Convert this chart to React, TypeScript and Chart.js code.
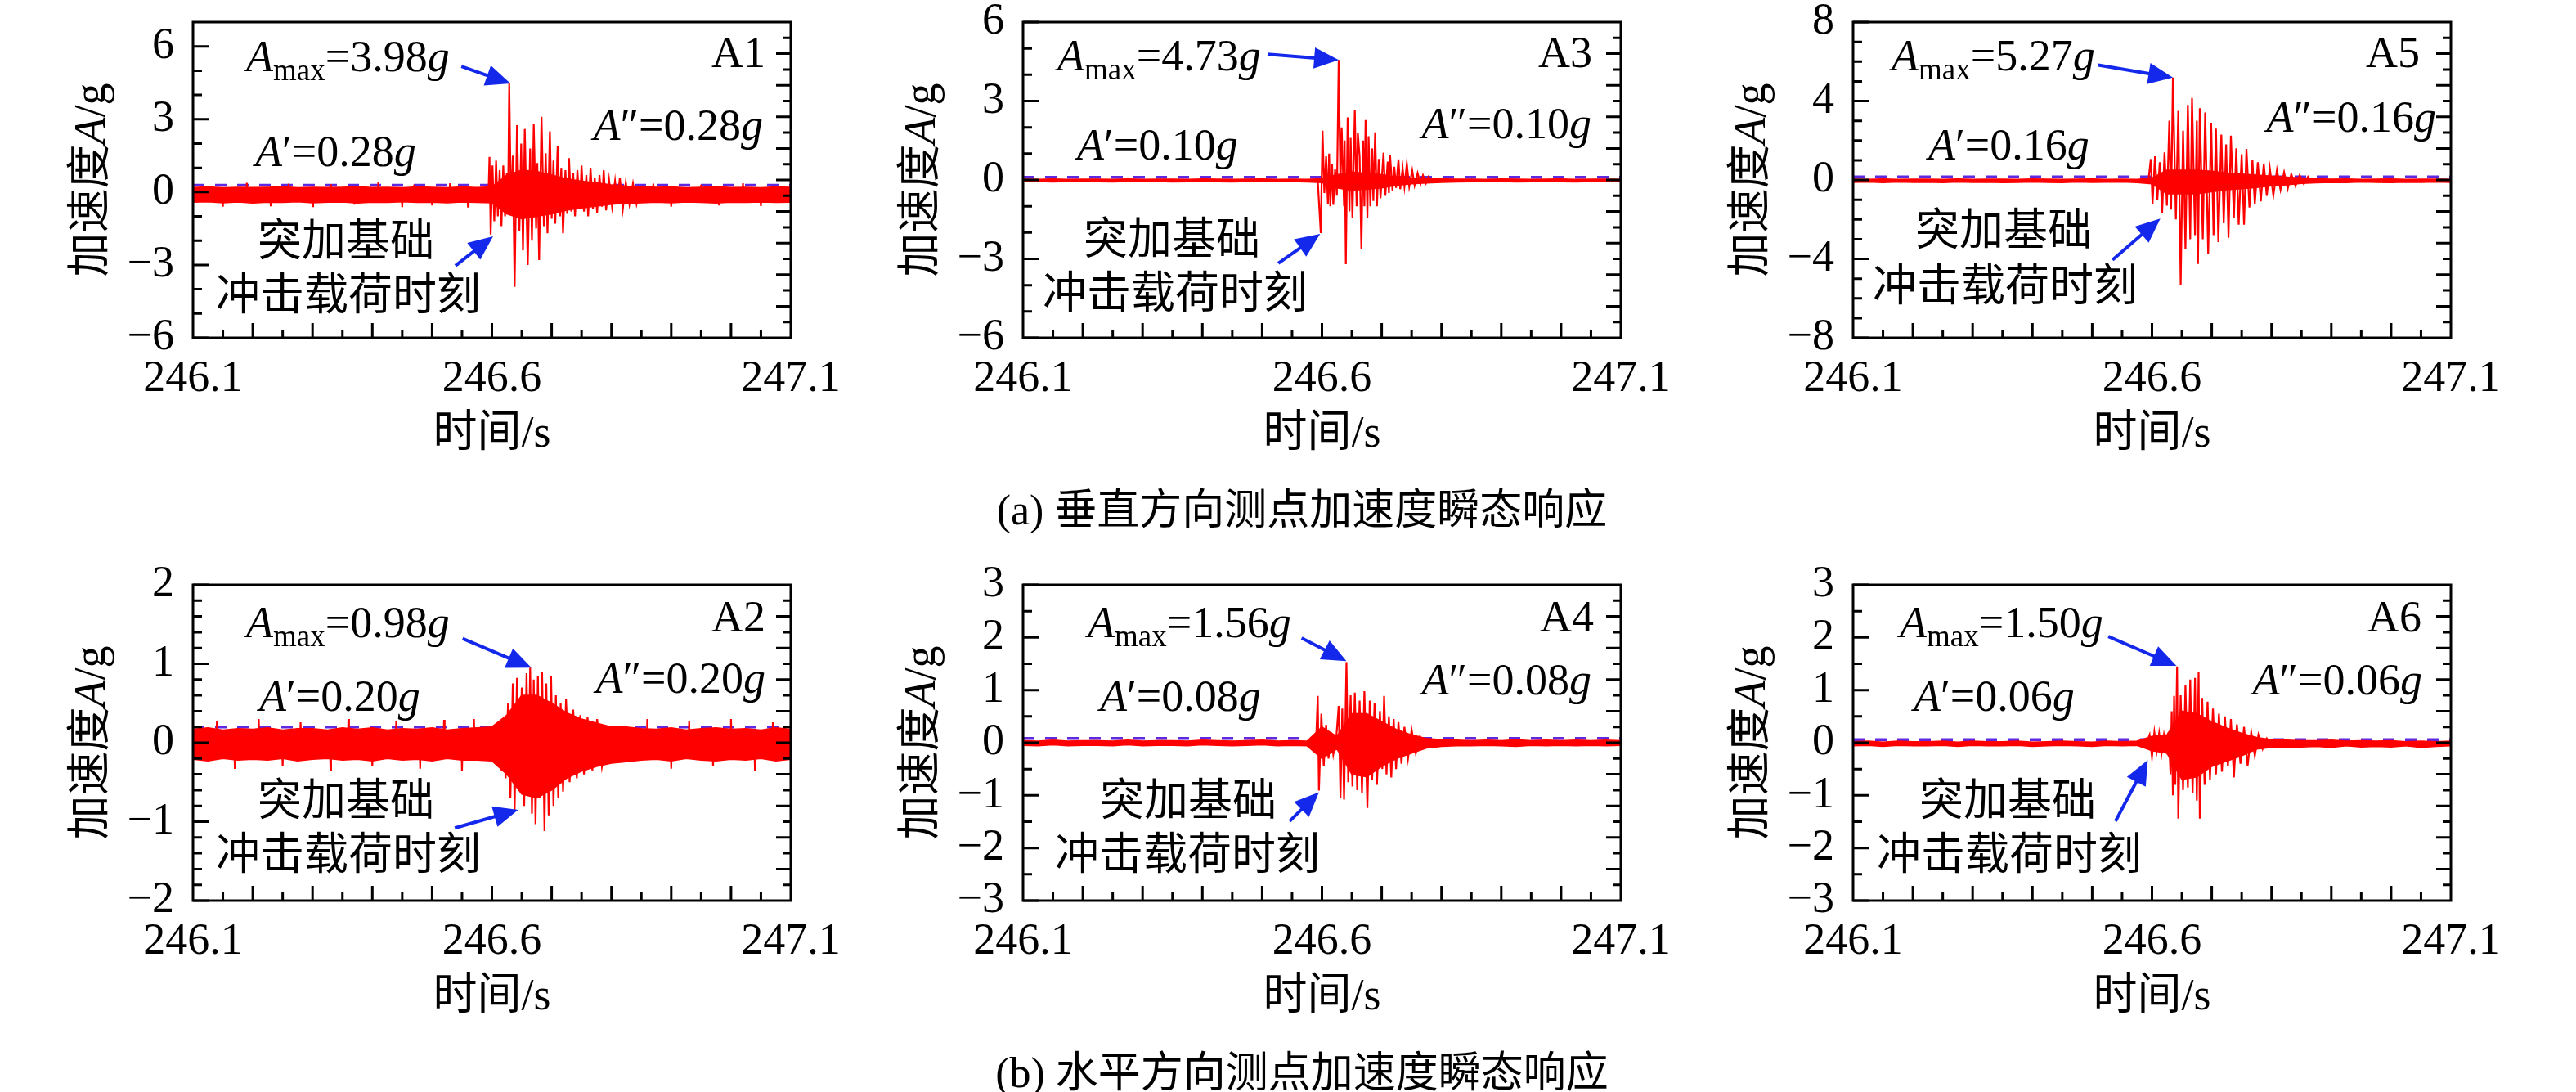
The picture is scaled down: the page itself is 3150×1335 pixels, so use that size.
import { useEffect, useRef } from 'react';
import { Chart, registerables } from 'chart.js';

Chart.register(...registerables);

const SERIF = "'Liberation Serif', 'Times New Roman', serif";
const MIXED = "'Liberation Serif', 'Noto Sans CJK SC', serif";
const RED = 'rgb(255,0,0)';
const DASH = 'rgb(95,40,225)';
const ARROW = 'rgb(20,40,235)';

// time axis
const xTicks = [246.1, 246.6, 247.1];

// grid for the background-noise envelope (s)
const bandT = [
    246.1, 246.125, 246.15, 246.175, 246.2, 246.225, 246.25, 246.275, 246.3, 246.325,
    246.35, 246.375, 246.4, 246.425, 246.45, 246.475, 246.5, 246.525, 246.55, 246.575,
    246.6, 246.625, 246.65, 246.675, 246.7, 246.725, 246.75, 246.775, 246.8, 246.825,
    246.85, 246.875, 246.9, 246.925, 246.95, 246.975, 247.0, 247.025, 247.05, 247.075, 247.1,
];

// A1
const a1Hi = [0.19, 0.21, 0.18, 0.2, 0.19, 0.2, 0.22, 0.18, 0.2, 0.19, 0.2, 0.22, 0.19, 0.2, 0.18, 0.21, 0.2, 0.18, 0.21, 0.19,
    0.21, 0.7, 0.9, 0.85, 0.7, 0.55, 0.45, 0.38, 0.3, 0.25, 0.22,
    0.2, 0.21, 0.18, 0.2, 0.22, 0.19, 0.2, 0.18, 0.21, 0.2];
const a1Lo = [-0.42, -0.4, -0.44, -0.41, -0.45, -0.42, -0.43, -0.4, -0.44, -0.42, -0.41, -0.45, -0.42, -0.43, -0.4, -0.43, -0.42, -0.44, -0.41, -0.43,
    -0.44, -0.9, -1.1, -1.0, -0.9, -0.75, -0.65, -0.58, -0.5, -0.46, -0.44,
    -0.42, -0.44, -0.41, -0.43, -0.45, -0.42, -0.43, -0.41, -0.43, -0.42];
const a1Spk = [[246.1, -0.1],
    [246.149, -0.1], [246.15, -0.6], [246.151, -0.1], [246.189, -0.1], [246.19, 0.38], [246.191, -0.1],
    [246.229, -0.1], [246.23, -0.55], [246.231, -0.1], [246.259, -0.1], [246.26, 0.35], [246.261, -0.1],
    [246.299, -0.1], [246.3, -0.58], [246.301, -0.1], [246.329, -0.1], [246.33, 0.32], [246.331, -0.1],
    [246.369, -0.1], [246.37, -0.52], [246.371, -0.1], [246.409, -0.1], [246.41, 0.4], [246.411, -0.1],
    [246.449, -0.1], [246.45, -0.62], [246.451, -0.1], [246.469, -0.1], [246.47, 0.3], [246.471, -0.1],
    [246.499, -0.1], [246.5, -0.55], [246.501, -0.1], [246.529, -0.1], [246.53, 0.36], [246.531, -0.1],
    [246.559, -0.1], [246.56, -0.6], [246.561, -0.1],
    [246.59, -0.1], [246.594, -0.3], [246.596, 1.45], [246.598, -1.75], [246.601, 1.1], [246.604, -1.2], [246.607, 1.3], [246.61, -1.0],
    [246.613, 0.9], [246.616, -1.4], [246.619, 1.1], [246.622, -1.0], [246.625, 0.8], [246.627, -0.6], [246.629, 4.47], [246.632, -0.8],
    [246.635, 1.5], [246.638, -3.9], [246.642, 2.76], [246.646, -1.6], [246.649, 2.0], [246.652, -2.4], [246.655, 2.6], [246.66, -3.0],
    [246.664, 1.8], [246.667, -2.0], [246.67, 2.8], [246.674, -1.5], [246.676, 1.2], [246.679, -2.8], [246.683, 3.1], [246.687, -1.4],
    [246.69, 1.6], [246.693, -1.7], [246.697, 2.5], [246.7, -1.1], [246.703, 1.3], [246.706, -1.3], [246.71, 1.9], [246.714, -1.0],
    [246.716, 1.0], [246.719, -1.7], [246.723, 0.9], [246.726, -0.9], [246.729, 1.4], [246.733, -0.8], [246.736, 0.8], [246.739, -1.0],
    [246.743, 0.9], [246.747, -0.7], [246.75, 1.1], [246.754, -0.8], [246.758, 0.7], [246.761, -1.0], [246.765, 1.0], [246.769, -0.7],
    [246.772, 0.6], [246.776, -0.85], [246.78, 0.7], [246.784, -0.6], [246.787, 0.9], [246.791, -0.75], [246.796, 0.5], [246.801, -0.6],
    [246.806, 0.45], [246.81, -0.5], [246.814, 0.6], [246.819, -0.7], [246.824, 0.4], [246.83, -0.5], [246.836, 0.35], [246.842, -0.5],
    [246.846, -0.1], [246.869, -0.1], [246.87, 0.35], [246.871, -0.1], [246.899, -0.1], [246.9, -0.6], [246.901, -0.1],
    [246.949, -0.1], [246.95, 0.3], [246.951, -0.1], [246.979, -0.1], [246.98, -0.55], [246.981, -0.1],
    [247.019, -0.1], [247.02, 0.36], [247.021, -0.1], [247.049, -0.1], [247.05, -0.58], [247.051, -0.1], [247.1, -0.1]];

// A3
const a3Hi = [0.03, 0.02, 0.04, 0.02, 0.03, 0.03, 0.02, 0.04, 0.02, 0.03, 0.03, 0.02, 0.04, 0.03, 0.02, 0.03, 0.04, 0.02, 0.03, 0.02,
    0.05, 0.2, 0.3, 0.25, 0.2, 0.12, 0.08, 0.05, 0.04, 0.03, 0.03,
    0.02, 0.04, 0.03, 0.02, 0.03, 0.04, 0.02, 0.03, 0.03, 0.02];
const a3Lo = [-0.07, -0.06, -0.08, -0.06, -0.07, -0.07, -0.08, -0.06, -0.07, -0.06, -0.08, -0.07, -0.06, -0.07, -0.08, -0.06, -0.07, -0.07, -0.06, -0.08,
    -0.1, -0.3, -0.4, -0.35, -0.3, -0.2, -0.15, -0.12, -0.09, -0.08, -0.07,
    -0.07, -0.06, -0.08, -0.07, -0.06, -0.07, -0.08, -0.06, -0.07, -0.07];
const a3Spk = [[246.593, -0.03], [246.598, -2.02], [246.601, 1.87], [246.604, -0.5], [246.607, 0.9], [246.61, -0.9], [246.612, 1.0], [246.614, -1.0],
    [246.617, 0.6], [246.619, -0.95], [246.622, 0.4], [246.625, -0.6], [246.628, 4.56], [246.631, -0.3], [246.633, 2.0], [246.637, -1.0],
    [246.638, 1.5], [246.64, -3.2], [246.643, 2.38], [246.646, -1.2], [246.648, 1.6], [246.651, -1.45], [246.655, 2.64], [246.658, -1.0],
    [246.66, 1.8], [246.663, 0.9], [246.666, -2.64], [246.669, 1.5], [246.671, -1.0], [246.673, 2.28], [246.676, -1.45], [246.678, 1.66],
    [246.681, -1.0], [246.684, 1.2], [246.686, -0.8], [246.689, 1.81], [246.692, -1.0], [246.695, 0.8], [246.698, -0.7], [246.703, 1.04],
    [246.706, -0.6], [246.71, 0.7], [246.712, -0.5], [246.714, 0.93], [246.718, -0.4], [246.721, 0.5], [246.724, -0.3], [246.728, 0.78],
    [246.731, -0.35], [246.735, 0.45], [246.738, -0.25], [246.742, 0.62], [246.746, -0.25], [246.751, 0.36], [246.755, -0.2], [246.76, 0.26],
    [246.765, -0.15], [246.769, 0.18], [246.774, -0.12], [246.778, 0.12], [246.786, -0.08], [246.796, 0.05]];

// A5
const a5Hi = [0.04, 0.03, 0.05, 0.03, 0.04, 0.04, 0.03, 0.05, 0.03, 0.04, 0.04, 0.03, 0.05, 0.04, 0.03, 0.04, 0.05, 0.03, 0.04, 0.03,
    0.1, 0.5, 0.5, 0.5, 0.45, 0.35, 0.3, 0.25, 0.2, 0.15, 0.1,
    0.06, 0.04, 0.05, 0.03, 0.04, 0.05, 0.03, 0.04, 0.04, 0.03];
const a5Lo = [-0.12, -0.1, -0.13, -0.1, -0.12, -0.11, -0.13, -0.1, -0.12, -0.11, -0.13, -0.12, -0.1, -0.12, -0.13, -0.1, -0.12, -0.11, -0.1, -0.13,
    -0.2, -0.7, -0.7, -0.7, -0.6, -0.5, -0.45, -0.38, -0.3, -0.25, -0.18,
    -0.15, -0.12, -0.13, -0.1, -0.12, -0.13, -0.11, -0.12, -0.1, -0.12];
const a5Spk = [[246.594, -0.05], [246.598, 1.06], [246.601, -1.2], [246.605, 1.2], [246.609, -1.0], [246.613, 0.9], [246.617, -1.68], [246.621, 1.4],
    [246.625, -1.3], [246.629, 3.0], [246.632, -1.5], [246.635, 5.19], [246.64, -2.0], [246.644, 3.5], [246.648, -5.3], [246.652, 2.5],
    [246.656, -3.5], [246.66, 3.8], [246.664, -3.0], [246.667, 4.15], [246.672, -2.8], [246.675, 3.0], [246.677, -4.26], [246.68, 3.64],
    [246.685, -3.0], [246.689, 3.42], [246.694, -3.74], [246.699, 2.9], [246.703, -2.8], [246.707, 2.6], [246.711, -3.15], [246.716, 2.3],
    [246.72, -2.2], [246.724, 1.8], [246.728, -2.93], [246.732, 2.25], [246.737, -1.9], [246.741, 1.6], [246.745, -2.27], [246.75, 1.3],
    [246.754, -2.27], [246.758, 1.57], [246.763, -1.4], [246.768, 1.0], [246.772, -1.23], [246.777, 0.9], [246.782, -1.08], [246.787, 0.83],
    [246.792, -0.8], [246.797, 0.61], [246.803, -0.79], [246.809, 0.5], [246.815, -0.5], [246.821, 0.39], [246.827, -0.45], [246.833, 0.3],
    [246.84, -0.3], [246.847, 0.24], [246.854, -0.2], [246.861, 0.17], [246.868, -0.12]];

// A2
const a2Hi = [0.17, 0.19, 0.16, 0.18, 0.17, 0.19, 0.16, 0.18, 0.18, 0.16, 0.19, 0.17, 0.19, 0.16, 0.18, 0.17, 0.19, 0.16, 0.18, 0.19,
    0.2, 0.35, 0.6, 0.6, 0.5, 0.38, 0.3, 0.25, 0.2, 0.2, 0.18,
    0.17, 0.19, 0.16, 0.18, 0.19, 0.17, 0.18, 0.16, 0.19, 0.17];
const a2Lo = [-0.21, -0.23, -0.2, -0.22, -0.21, -0.22, -0.2, -0.23, -0.21, -0.2, -0.22, -0.21, -0.23, -0.2, -0.22, -0.21, -0.23, -0.2, -0.22, -0.22,
    -0.23, -0.4, -0.65, -0.7, -0.6, -0.45, -0.36, -0.3, -0.26, -0.24, -0.22,
    -0.21, -0.23, -0.2, -0.22, -0.23, -0.21, -0.22, -0.2, -0.23, -0.21];
const a2Spk = [[246.1, 0.0],
    [246.139, 0.0], [246.14, 0.28], [246.141, 0.0], [246.169, 0.0], [246.17, -0.32], [246.171, 0.0],
    [246.209, 0.0], [246.21, 0.3], [246.211, 0.0], [246.249, 0.0], [246.25, -0.3], [246.251, 0.0],
    [246.279, 0.0], [246.28, 0.26], [246.281, 0.0], [246.329, 0.0], [246.33, -0.35], [246.331, 0.0],
    [246.359, 0.0], [246.36, 0.3], [246.361, 0.0], [246.399, 0.0], [246.4, -0.3], [246.401, 0.0],
    [246.439, 0.0], [246.44, 0.27], [246.441, 0.0], [246.479, 0.0], [246.48, -0.33], [246.481, 0.0],
    [246.519, 0.0], [246.52, 0.29], [246.521, 0.0], [246.549, 0.0], [246.55, -0.36], [246.551, 0.0],
    [246.569, 0.0], [246.57, 0.3], [246.571, 0.0],
    [246.612, 0.2], [246.616, -0.35], [246.62, 0.3], [246.623, -0.45], [246.627, 0.5], [246.631, -0.7], [246.635, 0.75], [246.638, -0.85],
    [246.642, 0.82], [246.646, -0.6], [246.65, 0.7], [246.654, -0.8], [246.658, 0.88], [246.661, -0.5], [246.664, 0.95], [246.667, -0.9],
    [246.67, 0.8], [246.673, -1.03], [246.677, 0.85], [246.68, -0.7], [246.684, 0.9], [246.688, -1.12], [246.691, 0.75], [246.695, -0.92],
    [246.699, 0.85], [246.703, -0.8], [246.707, 0.6], [246.711, -0.7], [246.715, 0.5], [246.719, -0.62], [246.724, 0.55], [246.73, -0.5],
    [246.736, 0.42], [246.742, -0.45], [246.748, 0.35], [246.754, -0.4], [246.76, 0.32], [246.768, -0.35], [246.776, 0.3], [246.784, -0.3],
    [246.79, 0.0], [246.859, 0.0], [246.86, 0.3], [246.861, 0.0], [246.899, 0.0], [246.9, -0.33], [246.901, 0.0],
    [246.929, 0.0], [246.93, 0.28], [246.931, 0.0], [246.969, 0.0], [246.97, -0.3], [246.971, 0.0],
    [246.999, 0.0], [247.0, 0.3], [247.001, 0.0], [247.039, 0.0], [247.04, -0.34], [247.041, 0.0],
    [247.069, 0.0], [247.07, 0.26], [247.071, 0.0], [247.1, 0.0]];

// A4
const a4Hi = [0.04, 0.03, 0.05, 0.03, 0.04, 0.04, 0.03, 0.05, 0.03, 0.04, 0.04, 0.03, 0.05, 0.04, 0.03, 0.04, 0.05, 0.03, 0.04, 0.03,
    0.3, 0.12, 0.55, 0.55, 0.4, 0.25, 0.15, 0.08, 0.06, 0.05, 0.04,
    0.05, 0.04, 0.06, 0.04, 0.05, 0.04, 0.05, 0.04, 0.05, 0.04];
const a4Lo = [-0.05, -0.06, -0.04, -0.06, -0.05, -0.05, -0.06, -0.04, -0.06, -0.05, -0.05, -0.06, -0.04, -0.05, -0.06, -0.05, -0.04, -0.06, -0.05, -0.06,
    -0.3, -0.12, -0.6, -0.65, -0.45, -0.3, -0.2, -0.1, -0.07, -0.06, -0.06,
    -0.05, -0.06, -0.07, -0.05, -0.06, -0.05, -0.06, -0.05, -0.06, -0.05];
const a4Spk = [[246.59, -0.03], [246.593, 0.89], [246.595, -0.91], [246.599, 0.55], [246.603, -0.45], [246.607, 0.34], [246.611, -0.3], [246.615, 0.2],
    [246.619, -0.22], [246.624, 0.1], [246.628, 0.7], [246.631, -1.05], [246.634, 0.65], [246.637, -1.08], [246.641, 1.53], [246.644, -0.75],
    [246.648, 0.9], [246.651, -0.83], [246.655, 0.95], [246.659, -0.9], [246.663, 0.8], [246.667, -0.95], [246.671, 0.98], [246.676, -1.24],
    [246.68, 0.8], [246.684, -0.7], [246.688, 0.75], [246.692, -0.8], [246.697, 0.6], [246.701, -0.5], [246.704, 0.89], [246.708, -0.6],
    [246.712, 0.5], [246.716, -0.66], [246.72, 0.45], [246.724, -0.5], [246.728, 0.39], [246.733, -0.4], [246.738, 0.3], [246.744, -0.3],
    [246.75, 0.25], [246.757, -0.2], [246.764, 0.12], [246.772, -0.1]];

// A6
const a6Hi = [0.02, 0.03, 0.01, 0.03, 0.02, 0.02, 0.03, 0.01, 0.03, 0.02, 0.02, 0.03, 0.01, 0.02, 0.03, 0.02, 0.01, 0.03, 0.02, 0.03,
    0.12, 0.15, 0.6, 0.55, 0.4, 0.28, 0.18, 0.1, 0.06, 0.05, 0.04,
    0.04, 0.05, 0.03, 0.04, 0.03, 0.04, 0.02, 0.03, 0.02, 0.03];
const a6Lo = [-0.06, -0.05, -0.07, -0.05, -0.06, -0.06, -0.05, -0.07, -0.05, -0.06, -0.06, -0.05, -0.07, -0.06, -0.05, -0.06, -0.07, -0.05, -0.06, -0.05,
    -0.15, -0.2, -0.7, -0.65, -0.45, -0.35, -0.25, -0.12, -0.09, -0.08, -0.08,
    -0.07, -0.09, -0.06, -0.08, -0.07, -0.08, -0.06, -0.09, -0.07, -0.06];
const a6Spk = [[246.59, -0.03], [246.596, 0.15], [246.6, -0.27], [246.604, 0.2], [246.608, -0.15], [246.612, 0.18], [246.616, -0.2], [246.62, 0.15],
    [246.624, -0.12], [246.628, 0.2], [246.631, -0.6], [246.633, 0.6], [246.635, -1.0], [246.637, 0.89], [246.639, -0.8], [246.642, 1.45],
    [246.644, -1.44], [246.648, 0.9], [246.652, -0.9], [246.656, 1.1], [246.66, -0.85], [246.664, 1.2], [246.668, -0.95], [246.672, 1.23],
    [246.675, -1.1], [246.678, 1.34], [246.68, -1.44], [246.684, 0.85], [246.688, -0.8], [246.693, 0.78], [246.697, -0.7], [246.702, 0.65],
    [246.707, -0.6], [246.712, 0.55], [246.717, -0.55], [246.722, 0.5], [246.727, -0.45], [246.732, 0.45], [246.737, -0.66], [246.742, 0.35],
    [246.748, -0.4], [246.754, 0.3], [246.76, -0.44], [246.766, 0.2], [246.772, -0.25], [246.778, 0.15], [246.785, -0.12], [246.792, 0.08],
    [246.8, -0.06]];

const ticks8 = [-8, -4, 0, 4, 8];
const ticks6 = [-6, -3, 0, 3, 6];
const ticks3 = [-3, -2, -1, 0, 1, 2, 3];
const ticks2 = [-2, -1, 0, 1, 2];

type Pt = [number, number];
type Panel = {
    name: string; hi: number[]; lo: number[]; spk: number[][];
    yMin: number; yMax: number; yTicks: number[]; minor: number;
    amax: string; aPre: string; aPost: string; aLine: number;
    tAmax: Pt; tPre: Pt; tPost: Pt; tName: Pt; tCjk1: Pt; tCjk2: Pt;
    arr1: [Pt, Pt]; arr2: [Pt, Pt];
};

const panels: Panel[] = [
    {
        name: 'A1', hi: a1Hi, lo: a1Lo, spk: a1Spk, yMin: -6, yMax: 7, yTicks: ticks6, minor: 1,
        amax: '3.98', aPre: '0.28', aPost: '0.28', aLine: 0.28,
        tAmax: [65, 60], tPre: [76, 176], tPost: [697, 144], tName: [700, 41], tCjk1: [79, 272], tCjk2: [28, 338],
        arr1: [[246.549, 5.18], [246.631, 4.47]], arr2: [[246.539, -3.03], [246.602, -1.82]],
    },
    {
        name: 'A3', hi: a3Hi, lo: a3Lo, spk: a3Spk, yMin: -6, yMax: 6, yTicks: ticks6, minor: 1,
        amax: '4.73', aPre: '0.10', aPost: '0.10', aLine: 0.1,
        tAmax: [42, 59], tPre: [66, 168], tPost: [695, 142], tName: [696, 41], tCjk1: [74, 270], tCjk2: [24, 336],
        arr1: [[246.509, 4.78], [246.628, 4.56]], arr2: [[246.527, -3.17], [246.597, -2.05]],
    },
    {
        name: 'A5', hi: a5Hi, lo: a5Lo, spk: a5Spk, yMin: -8, yMax: 8, yTicks: ticks8, minor: 1,
        amax: '5.27', aPre: '0.16', aPost: '0.16', aLine: 0.16,
        tAmax: [47, 59], tPre: [92, 168], tPost: [713, 134], tName: [693, 41], tCjk1: [76, 259], tCjk2: [24, 327],
        arr1: [[246.51, 5.82], [246.635, 5.19]], arr2: [[246.534, -4.05], [246.614, -1.96]],
    },
    {
        name: 'A2', hi: a2Hi, lo: a2Lo, spk: a2Spk, yMin: -2, yMax: 2, yTicks: ticks2, minor: 0.2,
        amax: '0.98', aPre: '0.20', aPost: '0.20', aLine: 0.2,
        tAmax: [65, 64], tPre: [81, 154], tPost: [700, 132], tName: [700, 43], tCjk1: [79, 268], tCjk2: [28, 334],
        arr1: [[246.551, 1.32], [246.666, 0.95]], arr2: [[246.538, -1.08], [246.644, -0.85]],
    },
    {
        name: 'A4', hi: a4Hi, lo: a4Lo, spk: a4Spk, yMin: -3, yMax: 3, yTicks: ticks3, minor: 0.5,
        amax: '1.56', aPre: '0.08', aPost: '0.08', aLine: 0.08,
        tAmax: [79, 64], tPre: [94, 154], tPost: [695, 134], tName: [698, 43], tCjk1: [94, 268], tCjk2: [39, 334],
        arr1: [[246.566, 1.99], [246.641, 1.55]], arr2: [[246.546, -1.49], [246.595, -0.94]],
    },
    {
        name: 'A6', hi: a6Hi, lo: a6Lo, spk: a6Spk, yMin: -3, yMax: 3, yTicks: ticks3, minor: 0.5,
        amax: '1.50', aPre: '0.06', aPost: '0.06', aLine: 0.06,
        tAmax: [57, 64], tPre: [74, 154], tPost: [696, 134], tName: [695, 43], tCjk1: [81, 268], tCjk2: [29, 334],
        arr1: [[246.527, 2.02], [246.641, 1.46]], arr2: [[246.539, -1.49], [246.593, -0.33]],
    },
];

type Part = { s: string; it?: boolean; sub?: boolean };
const FS = 54;

function fontOf(p: Part) {
    const sz = p.sub ? Math.round(FS * 0.68) : FS;
    return `${p.it ? 'italic ' : ''}${sz}px ${MIXED}`;
}

function drawRich(ctx: CanvasRenderingContext2D, parts: Part[], x: number, y: number, align: string, baseline: CanvasTextBaseline) {
    ctx.textBaseline = baseline;
    ctx.textAlign = 'left';
    let w = 0;
    for (const p of parts) { ctx.font = fontOf(p); w += ctx.measureText(p.s).width; }
    let cx = align === 'left' ? x : align === 'right' ? x - w : x - w / 2;
    for (const p of parts) {
        ctx.font = fontOf(p);
        ctx.fillText(p.s, cx, p.sub ? y + FS * 0.2 : y);
        cx += ctx.measureText(p.s).width;
    }
}

function drawArrow(ctx: CanvasRenderingContext2D, x0: number, y0: number, x1: number, y1: number) {
    const L = 30, W = 13;
    const dx = x1 - x0, dy = y1 - y0;
    const len = Math.hypot(dx, dy);
    const ux = dx / len, uy = dy / len;
    const bx = x1 - ux * L, by = y1 - uy * L;
    ctx.strokeStyle = ARROW;
    ctx.fillStyle = ARROW;
    ctx.lineWidth = 4;
    ctx.beginPath();
    ctx.moveTo(x0, y0);
    ctx.lineTo(bx + ux * 2, by + uy * 2);
    ctx.stroke();
    ctx.beginPath();
    ctx.moveTo(x1, y1);
    ctx.lineTo(bx - uy * W, by + ux * W);
    ctx.lineTo(bx + uy * W, by - ux * W);
    ctx.closePath();
    ctx.fill();
}

function framePlugin(p: Panel) {
    return {
        id: 'frame' + p.name,
        afterDatasetsDraw(chart: any) {
            const ctx: CanvasRenderingContext2D = chart.ctx;
            const { left, right, top, bottom } = chart.chartArea;
            const xs = chart.scales.x, ys = chart.scales.y;
            ctx.save();
            // axes box
            ctx.strokeStyle = '#000';
            ctx.lineWidth = 3;
            ctx.strokeRect(left, top, right - left, bottom - top);
            ctx.beginPath();
            // left: majors + minors
            for (const v of p.yTicks) {
                const y = ys.getPixelForValue(v);
                ctx.moveTo(left, y); ctx.lineTo(left + 20, y);
            }
            const k0 = Math.ceil(p.yMin / p.minor - 1e-6), k1 = Math.floor(p.yMax / p.minor + 1e-6);
            for (let k = k0; k <= k1; k++) {
                const v = k * p.minor;
                if (p.yTicks.some(t => Math.abs(t - v) < 1e-6)) continue;
                if (v <= p.yMin + 1e-6 || v >= p.yMax - 1e-6) continue;
                const y = ys.getPixelForValue(v);
                ctx.moveTo(left, y); ctx.lineTo(left + 11, y);
            }
            // bottom: every 0.05 s, long at 0.1 s
            for (let k = 1; k < 20; k++) {
                const x = xs.getPixelForValue(246.1 + k * 0.05);
                const len = k % 2 === 0 ? 18 : 10;
                ctx.moveTo(x, bottom); ctx.lineTo(x, bottom - len);
            }
            // right: 20 even divisions
            for (let k = 1; k < 20; k++) {
                const y = bottom - (k * (bottom - top)) / 20;
                const len = k % 2 === 0 ? 18 : 10;
                ctx.moveTo(right, y); ctx.lineTo(right - len, y);
            }
            ctx.stroke();

            // axis titles
            ctx.fillStyle = '#000';
            ctx.save();
            ctx.translate(114, (top + bottom) / 2);
            ctx.rotate(-Math.PI / 2);
            drawRich(ctx, [{ s: '加速度' }, { s: 'A', it: true }, { s: '/g' }], 0, 0, 'center', 'middle');
            ctx.restore();
            drawRich(ctx, [{ s: '时间/s' }], (left + right) / 2, bottom + 119, 'center', 'middle');

            // annotations
            drawRich(ctx, [{ s: 'A', it: true }, { s: 'max', sub: true }, { s: '=' + p.amax }, { s: 'g', it: true }],
                left + p.tAmax[0], top + p.tAmax[1], 'left', 'alphabetic');
            drawRich(ctx, [{ s: 'A', it: true }, { s: '\u2032' }, { s: '=' + p.aPre }, { s: 'g', it: true }],
                left + p.tPre[0], top + p.tPre[1], 'left', 'alphabetic');
            drawRich(ctx, [{ s: 'A', it: true }, { s: '\u2033' }, { s: '=' + p.aPost }, { s: 'g', it: true }],
                left + p.tPost[0], top + p.tPost[1], 'right', 'alphabetic');
            drawRich(ctx, [{ s: p.name }], left + p.tName[0], top + p.tName[1], 'right', 'middle');
            drawRich(ctx, [{ s: '突加基础' }], left + p.tCjk1[0], top + p.tCjk1[1], 'left', 'middle');
            drawRich(ctx, [{ s: '冲击载荷时刻' }], left + p.tCjk2[0], top + p.tCjk2[1], 'left', 'middle');

            for (const [a, b] of [p.arr1, p.arr2]) {
                drawArrow(ctx, xs.getPixelForValue(a[0]), ys.getPixelForValue(a[1]),
                    xs.getPixelForValue(b[0]), ys.getPixelForValue(b[1]));
            }
            ctx.restore();
        },
    };
}

const CW = 1090, CH = 610;

function PanelChart({ p, x, y }: { p: Panel; x: number; y: number }) {
    const canvasRef = useRef<HTMLCanvasElement>(null);

    useEffect(() => {
        if (!canvasRef.current) return;
        const tickFont = { family: SERIF, size: FS };
        const chart = new Chart(canvasRef.current, {
            type: 'line',
            data: {
                datasets: [
                    {
                        data: p.spk.map(([t, a]) => ({ x: t, y: a })),
                        borderColor: RED, borderWidth: 2.2, pointRadius: 0, fill: false,
                    },
                    {
                        data: bandT.map((t, i) => ({ x: t, y: p.hi[i] })),
                        borderColor: RED, backgroundColor: RED, borderWidth: 1.5, pointRadius: 0, fill: '+1',
                    },
                    {
                        data: bandT.map((t, i) => ({ x: t, y: p.lo[i] })),
                        borderColor: RED, borderWidth: 1.5, pointRadius: 0, fill: false,
                    },
                    {
                        data: [{ x: xTicks[0], y: p.aLine }, { x: xTicks[2], y: p.aLine }],
                        borderColor: DASH, borderWidth: 3.5, borderDash: [14, 13], pointRadius: 0, fill: false,
                    },
                ],
            },
            options: {
                animation: false,
                responsive: false,
                devicePixelRatio: 1,
                events: [],
                layout: { padding: { top: 67, right: 123, left: 0, bottom: 0 } },
                elements: { line: { tension: 0 } },
                plugins: { legend: { display: false }, tooltip: { enabled: false } },
                scales: {
                    x: {
                        type: 'linear',
                        min: xTicks[0],
                        max: xTicks[2],
                        afterBuildTicks: (s: any) => { s.ticks = xTicks.map(v => ({ value: v })); },
                        afterFit: (s: any) => { s.height = CH - 67 - 386; },
                        grid: { display: false, drawTicks: false },
                        border: { display: false },
                        ticks: {
                            padding: 18, color: '#000', font: tickFont, maxRotation: 0, autoSkip: false,
                            callback: (v: any) => Number(v).toFixed(1),
                        },
                    },
                    y: {
                        type: 'linear',
                        min: p.yMin,
                        max: p.yMax,
                        afterBuildTicks: (s: any) => { s.ticks = p.yTicks.map(v => ({ value: v })); },
                        afterFit: (s: any) => { s.width = 236; },
                        grid: { display: false, drawTicks: false },
                        border: { display: false },
                        ticks: {
                            padding: 23, color: '#000', font: tickFont, autoSkip: false,
                            callback: (v: any) => (Number(v) < 0 ? '\u2212' + Math.abs(Number(v)) : String(v)),
                        },
                    },
                },
            } as any,
            plugins: [framePlugin(p)],
        });
        return () => chart.destroy();
    }, [p]);

    return (
        <canvas
            ref={canvasRef}
            width={CW}
            height={CH}
            style={{ position: 'absolute', left: x, top: y, width: CW, height: CH }}
        />
    );
}

export default function App() {
    const captionStyle = {
        position: 'absolute' as const,
        left: 1592,
        transform: 'translate(-50%, -50%)',
        whiteSpace: 'nowrap' as const,
        fontFamily: MIXED,
        fontSize: 52,
        lineHeight: 1,
        color: '#000',
    };
    return (
        <div style={{ position: 'relative', width: 3150, height: 1335, background: '#fff', overflow: 'hidden' }}>
            <style>{'body{margin:0}'}</style>
            {panels.map((p, i) => (
                <PanelChart key={p.name} p={p} x={(i % 3) * 1015} y={i < 3 ? -40 : 648} />
            ))}
            <div style={{ ...captionStyle, top: 624 }}>(a) 垂直方向测点加速度瞬态响应</div>
            <div style={{ ...captionStyle, top: 1312 }}>(b) 水平方向测点加速度瞬态响应</div>
        </div>
    );
}
